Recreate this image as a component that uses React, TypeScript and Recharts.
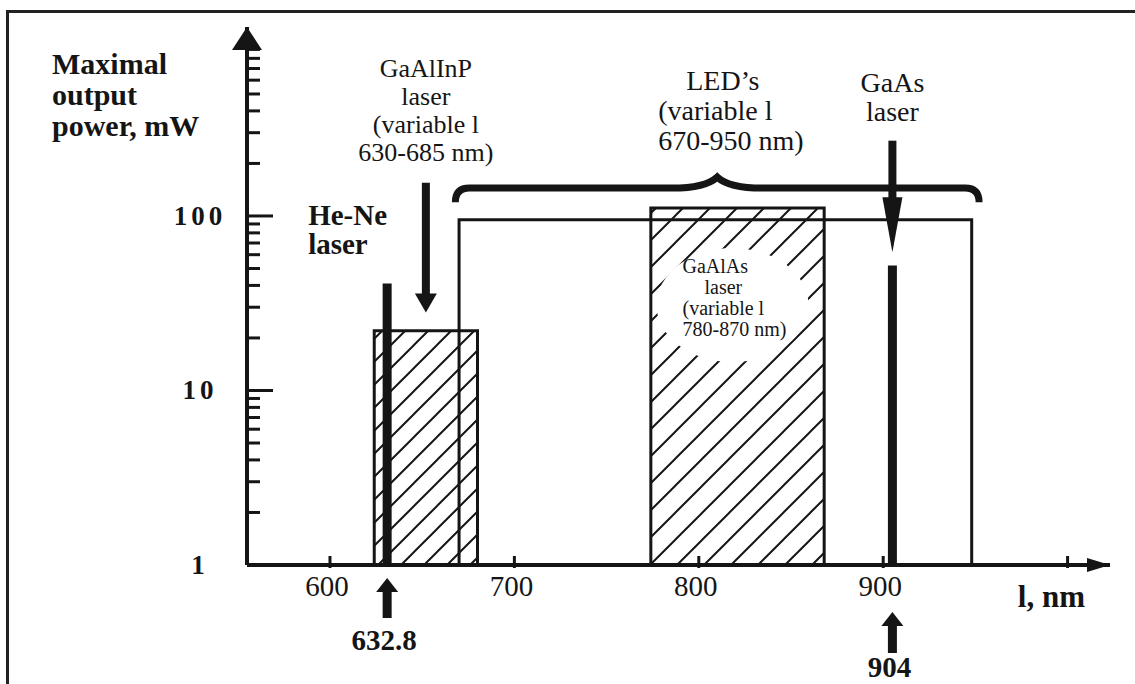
import React from 'react';
import { ComposedChart, XAxis, YAxis, ReferenceArea, ReferenceLine, ReferenceDot } from 'recharts';

const INK = '#151515';
const SERIF = '"Liberation Serif", "Times New Roman", serif';

// wavelength axis, nm
const xDomain = [555, 1023];
const xTicks = [600, 700, 800, 900, 1000];
const xTickLabels = ['600', '700', '800', '900', ''];

// output power axis, mW (log)
const yDomain = [1, 1210];
const yTicks = [1, 2, 3, 4, 5, 6, 7, 8, 9, 10, 20, 30, 40, 50, 60, 70, 80, 90, 100, 200, 300, 400, 500, 600, 700, 800, 900];
const yLabelled = [1, 10, 100];

// tunable sources: band edges (nm) and max power (mW)
const bandStart = [624, 670, 774];
const bandEnd = [680, 948, 868];
const bandPower = [22, 95, 111];
const bandHatch = ['hatchA', '', 'hatchB'];

// fixed-line lasers (He-Ne, GaAs)
const lineWavelength = [631, 905];
const linePower = [41, 52];
const lineMarks = ['632.8', '904'];

// pointer arrows coming down from the labels
const pointerX = [652, 905];
const pointerFrom = [155, 270];
const pointerTo = [28, 62];

// LED brace
const braceRange = [668, 952];
const bracePower = [120, 167];

// label texts
const yTitle = ['Maximal', 'output', 'power, mW'];
const xTitle = 'l, nm';
const heNeLabel = ['He-Ne', 'laser'];
const gaAlInPLabel = ['GaAlInP', 'laser', '(variable l', '630-685 nm)'];
const ledLabel = ['LED\u2019s', '(variable l', '670-950 nm)'];
const gaAsLabel = ['GaAs', 'laser'];
const gaAlAsLabel = ['GaAlAs', 'laser', '(variable l', '780-870 nm)'];

// arrow head sizes per pointer
const pointerHead = [{ w: 22, l: 19 }, { w: 20, l: 55 }];
const markOffset = [{ tip: 13, base: 52, text: 85 }, { tip: 47, base: 87, text: 112 }];

const vArrow = (x: number, yFrom: number, yTip: number, shaftW: number, headW: number, headL: number) => {
    const dir = yTip > yFrom ? 1 : -1;
    const yb = yTip - dir * headL;
    return (
        <g fill={INK}>
            <rect x={x - shaftW / 2} y={Math.min(yFrom, yb)} width={shaftW} height={Math.abs(yb - yFrom) + 1} />
            <polygon points={`${x - headW / 2},${yb} ${x + headW / 2},${yb} ${x},${yTip}`} />
        </g>
    );
};

const YTick = (props: any) => {
    const { x, y, payload } = props;
    const v = payload.value;
    const major = v === 10 || v === 100;
    return (
        <g>
            {v !== 1 && <line x1={x} x2={x + (major ? 26 : 13)} y1={y} y2={y} stroke={INK} strokeWidth={3} />}
            {yLabelled.includes(v) && (
                <text x={x - 47} y={y + 9} textAnchor="middle" fontFamily={SERIF} fontWeight="bold" fontSize={27} letterSpacing={4} fill={INK}>
                    {v}
                </text>
            )}
        </g>
    );
};

const XTick = (props: any) => {
    const { x, y, index } = props;
    return (
        <g>
            <line x1={x} x2={x} y1={y - 9} y2={y + 3} stroke={INK} strokeWidth={3} />
            <text x={x - 3} y={y + 31} textAnchor="middle" fontFamily={SERIF} fontSize={29} fill={INK}>
                {xTickLabels[index]}
            </text>
        </g>
    );
};

const Lines = ({ cx, cy, lines, dx, dy, size, bold, anchor = 'middle', gap }: any) => (
    <text fontFamily={SERIF} fontSize={size} fontWeight={bold ? 'bold' : 'normal'} fill={INK} textAnchor={anchor}>
        {lines.map((t: string, i: number) => (
            <tspan key={i} x={cx + (Array.isArray(dx) ? dx[i] : dx)} y={cy + dy + i * gap}>{t}</tspan>
        ))}
    </text>
);

const Brace = (props: any) => {
    const { x, y, width, height } = props;
    const cx = x + width / 2;
    const yb = y + 11;
    const d = `M${x},${y + height} Q${x},${yb} ${x + 14},${yb} L${cx - 45},${yb} Q${cx - 12},${yb} ${cx},${y} Q${cx + 12},${yb} ${cx + 45},${yb} L${x + width - 14},${yb} Q${x + width},${yb} ${x + width},${y + height}`;
    return <path d={d} fill="none" stroke={INK} strokeWidth={7} />;
};

const Pointer = (i: number) => (props: any) => {
    const { x1, y1, y2 } = props;
    return vArrow(x1, y1, y2, 8, pointerHead[i].w, pointerHead[i].l);
};

export default function App() {
    return (
        <div style={{ position: 'relative', width: 1135, height: 684, background: '#fff', overflow: 'hidden' }}>
            <style>{'body{margin:0}'}</style>
            <div style={{ position: 'absolute', left: 6, top: 10, right: -10, bottom: -10, borderLeft: '3px solid #222', borderTop: '3px solid #222' }} />
            <div style={{ position: 'absolute', left: 0, top: 0 }}>
                <ComposedChart width={1135} height={684} margin={{ top: 27, right: 25, bottom: 79, left: 187 }}>
                    <defs>
                        <pattern id="hatchA" patternUnits="userSpaceOnUse" width="23" height="23">
                            <path d="M-6,6 L6,-6 M0,23 L23,0 M17,29 L29,17" stroke={INK} strokeWidth={2} />
                        </pattern>
                        <pattern id="hatchB" patternUnits="userSpaceOnUse" width="27" height="27">
                            <path d="M-6,6 L6,-6 M0,27 L27,0 M21,33 L33,21" stroke={INK} strokeWidth={2} />
                        </pattern>
                    </defs>
                    <XAxis type="number" dataKey="x" domain={xDomain} ticks={xTicks} interval={0} allowDataOverflow
                        tickSize={0} tickMargin={0} tickLine={false} height={40}
                        axisLine={{ stroke: INK, strokeWidth: 4 }} tick={<XTick />} />
                    <YAxis type="number" dataKey="y" scale="log" domain={yDomain} ticks={yTicks} interval={0} allowDataOverflow
                        tickSize={0} tickMargin={0} tickLine={false} width={60}
                        axisLine={{ stroke: INK, strokeWidth: 4 }} tick={<YTick />} />

                    {bandStart.map((s, i) => (
                        <ReferenceArea key={`band-${i}`} x1={s} x2={bandEnd[i]} y1={1} y2={bandPower[i]} ifOverflow="visible"
                            fill={bandHatch[i] ? `url(#${bandHatch[i]})` : 'none'} fillOpacity={1}
                            stroke={INK} strokeWidth={3} />
                    ))}
                    <ReferenceArea x1={braceRange[0]} x2={braceRange[1]} y1={bracePower[0]} y2={bracePower[1]} ifOverflow="visible" shape={<Brace />} />

                    {lineWavelength.map((w, i) => (
                        <ReferenceLine key={`line-${i}`} segment={[{ x: w, y: 1 }, { x: w, y: linePower[i] }]} ifOverflow="visible"
                            stroke={INK} strokeWidth={9} />
                    ))}
                    {pointerX.map((px, i) => (
                        <ReferenceLine key={`ptr-${i}`} segment={[{ x: px, y: pointerFrom[i] }, { x: px, y: pointerTo[i] }]} ifOverflow="visible"
                            shape={Pointer(i)} />
                    ))}

                    {/* axis arrow heads and titles */}
                    <ReferenceDot x={xDomain[0]} y={yDomain[1]} ifOverflow="visible" shape={(p: any) => (
                        <g>
                            <polygon points={`${p.cx - 15},${p.cy + 23} ${p.cx + 15},${p.cy + 23} ${p.cx},${p.cy}`} fill={INK} />
                            <Lines cx={p.cx} cy={p.cy} lines={yTitle} dx={-195} dy={47} gap={31} size={30} bold anchor="start" />
                        </g>
                    )} />
                    <ReferenceDot x={xDomain[1]} y={1} ifOverflow="visible" shape={(p: any) => (
                        <g>
                            <polygon points={`${p.cx - 23},${p.cy - 7} ${p.cx - 23},${p.cy + 7} ${p.cx},${p.cy}`} fill={INK} />
                            <text x={p.cx - 25} y={p.cy + 42} textAnchor="end" fontFamily={SERIF} fontWeight="bold" fontSize={31} fill={INK}>{xTitle}</text>
                        </g>
                    )} />

                    {/* wavelength markers under the axis */}
                    {lineWavelength.map((w, i) => (
                        <ReferenceDot key={`mark-${i}`} x={w} y={1} ifOverflow="visible" shape={(p: any) => (
                            <g>
                                {vArrow(p.cx, p.cy + markOffset[i].base, p.cy + markOffset[i].tip, 9, 22, 14)}
                                <text x={p.cx - 3} y={p.cy + markOffset[i].text} textAnchor="middle" fontFamily={SERIF} fontWeight="bold" fontSize={29} fill={INK}>{lineMarks[i]}</text>
                            </g>
                        )} />
                    ))}

                    {/* source labels */}
                    <ReferenceDot x={lineWavelength[0]} y={yDomain[1]} ifOverflow="visible" shape={(p: any) => (
                        <Lines cx={p.cx} cy={p.cy} lines={heNeLabel} dx={-79} dy={198} gap={29} size={29} bold anchor="start" />
                    )} />
                    <ReferenceDot x={pointerX[0]} y={yDomain[1]} ifOverflow="visible" shape={(p: any) => (
                        <Lines cx={p.cx} cy={p.cy} lines={gaAlInPLabel} dx={0} dy={50} gap={28} size={26} />
                    )} />
                    <ReferenceDot x={(braceRange[0] + braceRange[1]) / 2} y={yDomain[1]} ifOverflow="visible" shape={(p: any) => (
                        <Lines cx={p.cx} cy={p.cy} lines={ledLabel} dx={[-31, -59, -59]} dy={63} gap={30} size={28} anchor="start" />
                    )} />
                    <ReferenceDot x={pointerX[1]} y={yDomain[1]} ifOverflow="visible" shape={(p: any) => (
                        <Lines cx={p.cx} cy={p.cy} lines={gaAsLabel} dx={0} dy={65} gap={29} size={28} />
                    )} />
                    <ReferenceDot x={(bandStart[2] + bandEnd[2]) / 2} y={bandPower[2]} ifOverflow="visible" shape={(p: any) => (
                        <g>
                            <ellipse cx={p.cx - 5} cy={p.cy + 97} rx={76} ry={57} fill="#fff" />
                            <Lines cx={p.cx} cy={p.cy} lines={gaAlAsLabel} dx={[-55, -33, -55, -55]} dy={65} gap={21} size={20} anchor="start" />
                        </g>
                    )} />
                </ComposedChart>
            </div>
        </div>
    );
}
